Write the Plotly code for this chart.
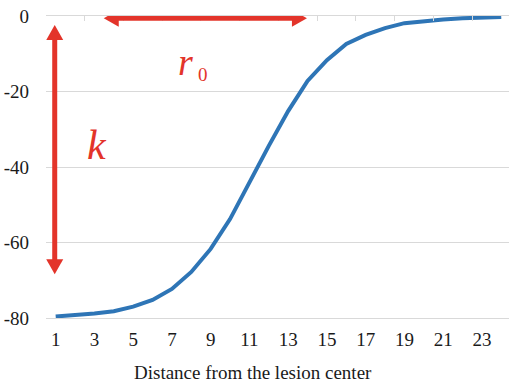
import plotly.graph_objects as go

# Sigmoid profile of the signal versus distance from the lesion center
distance = list(range(1, 25))
response = [-79.6, -79.3, -78.8, -78.2, -77.0, -75.2, -72.3, -67.8, -61.7, -53.8,
            -44.0, -34.4, -25.2, -17.2, -11.7, -7.4, -5.0, -3.2, -1.9, -1.3,
            -0.9, -0.6, -0.4, -0.25]
x_tick_vals = list(range(1, 24, 2))
x_tick_labels = [str(v) for v in x_tick_vals]
y_tick_vals = [0, -20, -40, -60, -80]
y_tick_labels = ["0", "-20", "-40", "-60", "-80"]
boundary_ticks = [v + 0.5 for v in range(0, 25, 2)]

RED = "#e3342a"
BLUE = "#2e75b6"
GRID = "#d9d9d9"
FONT = "Liberation Serif"

W, H = 509, 384
M = dict(l=46, r=0, t=16, b=66)
x_range = [0.5, 24.4]
y_range = [-80, 0]
px_per_x = (W - M["l"] - M["r"]) / (x_range[1] - x_range[0])
px_per_y = (H - M["t"] - M["b"]) / (y_range[1] - y_range[0])

# Double-headed arrows (tips in data units)
k_arrow = dict(x=0.95, y_top=-2.4, y_bottom=-68.4)
r0_arrow = dict(y=-0.6, x_left=3.48, x_right=13.97)
SHAFT = 5
HEAD_LEN = 15
HEAD_HALF = 8.5

fig = go.Figure()
fig.add_trace(go.Scatter(
    x=distance, y=response, mode="lines",
    line=dict(color=BLUE, width=4), cliponaxis=False,
    showlegend=False, hoverinfo="skip",
))
# invisible trace that activates the top axis (category boundary ticks)
fig.add_trace(go.Scatter(
    x=[distance[0]], y=[response[0]], xaxis="x2", mode="markers",
    marker=dict(opacity=0), showlegend=False, hoverinfo="skip",
))

fig.update_layout(
    width=W, height=H, margin=M,
    paper_bgcolor="white", plot_bgcolor="white",
    font=dict(family=FONT, size=19, color="#1a1a1a"),
    xaxis=dict(
        range=x_range, tickvals=x_tick_vals, ticktext=x_tick_labels,
        showgrid=False, zeroline=False, showline=True, linecolor=GRID,
        linewidth=1, ticks="", ticklabelstandoff=4,
        tickfont=dict(family=FONT, size=19),
    ),
    xaxis2=dict(
        range=x_range, overlaying="x", side="top", tickvals=boundary_ticks,
        showticklabels=False, ticks="inside", ticklen=5, tickcolor=GRID,
        showline=True, linecolor=GRID, linewidth=1, showgrid=False, zeroline=False,
    ),
    yaxis=dict(
        range=y_range, tickvals=y_tick_vals, ticktext=y_tick_labels,
        showgrid=True, gridcolor=GRID, gridwidth=1, zeroline=False,
        showline=False, ticks="", ticklabelstandoff=16,
        tickfont=dict(family=FONT, size=19),
    ),
)


def head(x, y, direction):
    """Filled triangle with its tip at (x, y), pointing up/down/left/right."""
    L, h = HEAD_LEN, HEAD_HALF
    paths = {
        "up": f"M0,0 L{-h},{-L} L{h},{-L} Z",
        "down": f"M0,0 L{-h},{L} L{h},{L} Z",
        "left": f"M0,0 L{L},{h} L{L},{-h} Z",
        "right": f"M0,0 L{-L},{h} L{-L},{-h} Z",
    }
    fig.add_shape(type="path", path=paths[direction], xref="x", yref="y",
                  xsizemode="pixel", ysizemode="pixel", xanchor=x, yanchor=y,
                  fillcolor=RED, line=dict(width=0), layer="above")


inset_y = (HEAD_LEN - 2) / px_per_y
inset_x = (HEAD_LEN - 2) / px_per_x

# vertical arrow (k)
fig.add_shape(type="line", xref="x", yref="y",
              x0=k_arrow["x"], x1=k_arrow["x"],
              y0=k_arrow["y_top"] - inset_y, y1=k_arrow["y_bottom"] + inset_y,
              line=dict(color=RED, width=SHAFT), layer="above")
head(k_arrow["x"], k_arrow["y_top"], "up")
head(k_arrow["x"], k_arrow["y_bottom"], "down")

# horizontal arrow (r0)
fig.add_shape(type="line", xref="x", yref="y",
              x0=r0_arrow["x_left"] + inset_x, x1=r0_arrow["x_right"] - inset_x,
              y0=r0_arrow["y"], y1=r0_arrow["y"],
              line=dict(color=RED, width=SHAFT), layer="above")
head(r0_arrow["x_left"], r0_arrow["y"], "left")
head(r0_arrow["x_right"], r0_arrow["y"], "right")

fig.add_annotation(x=3.12, y=-34.2, xref="x", yref="y", text="<i>k</i>",
                   showarrow=False, font=dict(family=FONT, size=42, color=RED))
fig.add_annotation(x=7.7, y=-12.3, xref="x", yref="y", text="<i>r</i>",
                   showarrow=False, font=dict(family=FONT, size=38, color=RED))
fig.add_annotation(x=8.6, y=-15.4, xref="x", yref="y", text="0",
                   showarrow=False, font=dict(family=FONT, size=19, color=RED))

fig.add_annotation(x=0.447, y=-0.182, xref="paper", yref="paper",
                   text="Distance from the lesion center", showarrow=False,
                   yanchor="middle", font=dict(family=FONT, size=19))

fig.write_html("out.html")
